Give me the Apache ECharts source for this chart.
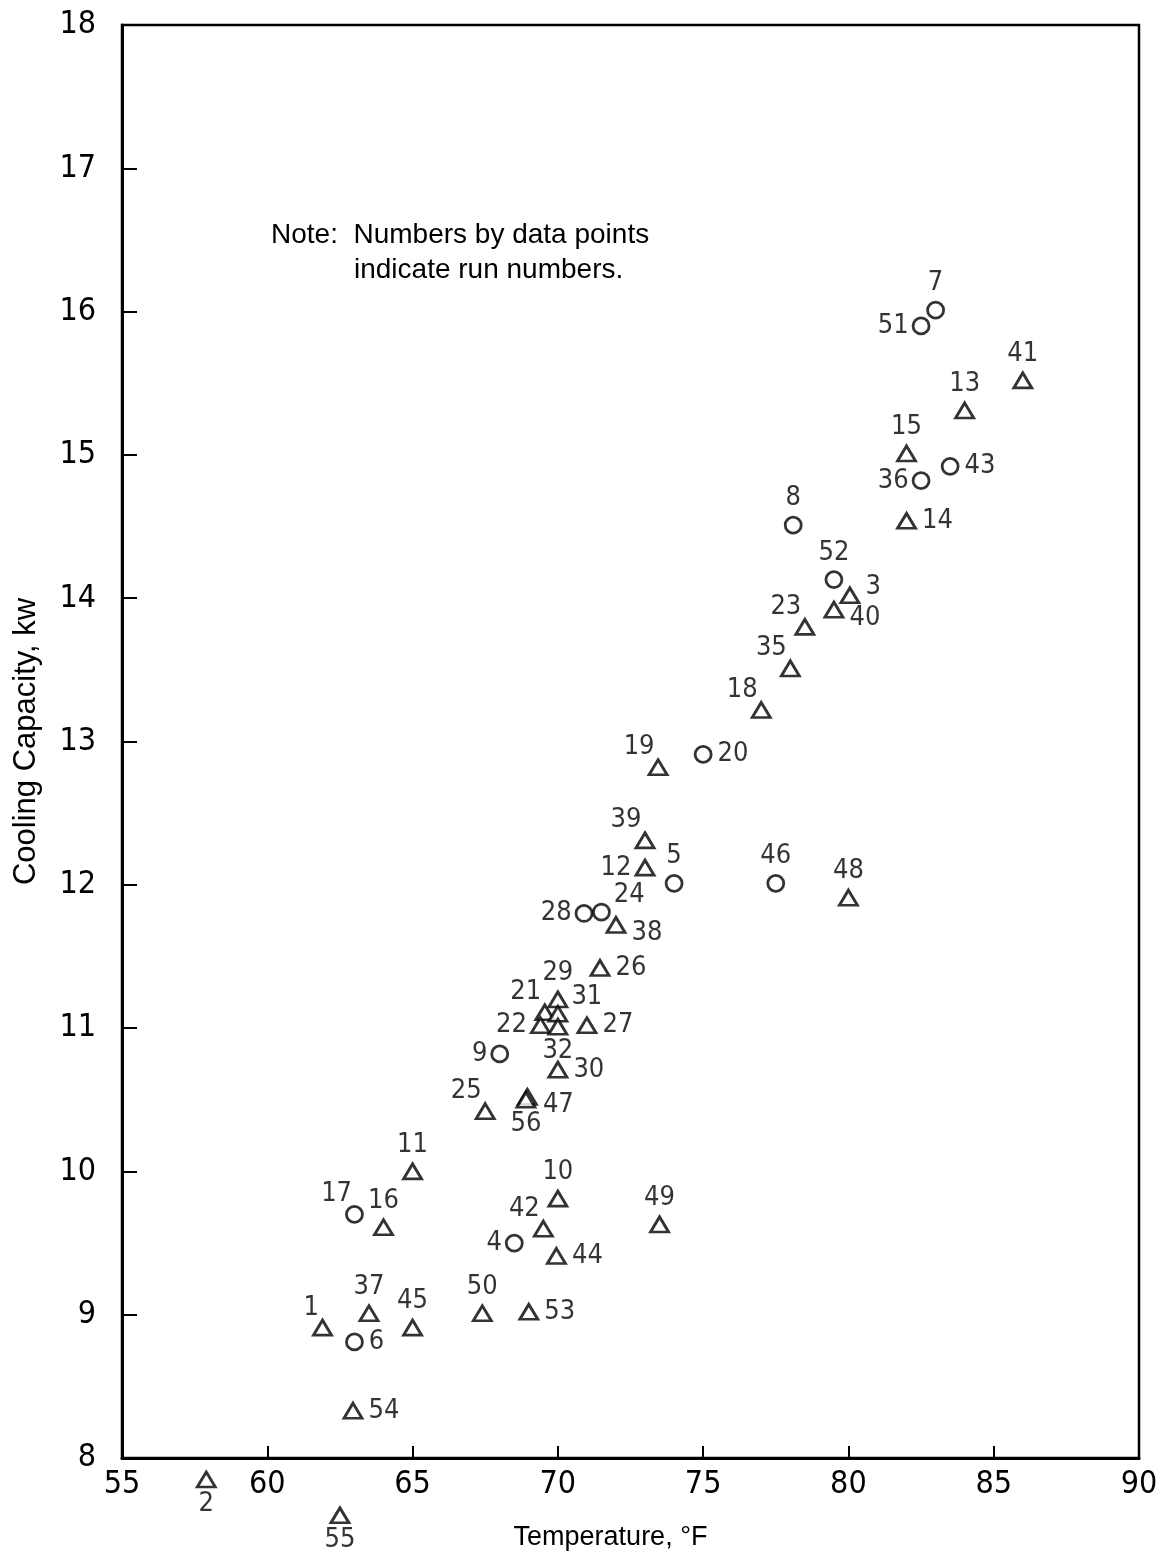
<!DOCTYPE html>
<html>
<head>
<meta charset="utf-8">
<title>Cooling capacity vs temperature</title>
<script src="https://cdn.jsdelivr.net/npm/echarts@6/dist/echarts.min.js"></script>
<style>
  html, body { margin: 0; padding: 0; background: #fff; }
  #chart { width: 1169px; height: 1557px; }
</style>
</head>
<body>
<div id="chart"></div>
<script>
// open circles
const circleRuns = [7, 51, 36, 43, 8, 52, 20, 5, 46, 28, 24, 9, 17, 4, 6];
const circleTemp = [83.0, 82.5, 82.5, 83.5, 78.1, 79.5, 75.0, 74.0, 77.5, 70.9, 71.5, 68.0, 63.0, 68.5, 63.0];
const circleCap = [16.01, 15.9, 14.82, 14.92, 14.51, 14.13, 12.91, 12.01, 12.01, 11.8, 11.81, 10.82, 9.7, 9.5, 8.81];

// open triangles
const triRuns = [41, 13, 15, 14, 3, 40, 23, 35, 18, 19, 39, 12, 48, 38, 26, 29, 21, 31, 22, 32,
  27, 30, 25, 47, 56, 11, 16, 10, 42, 44, 49, 1, 37, 45, 50, 53, 54, 2, 55];
const triTemp = [86.0, 84.0, 82.0, 82.0, 80.05, 79.5, 78.5, 78.0, 77.0, 73.45, 73.0, 73.0, 80.0, 72.0, 71.45, 70.0, 69.55, 70.0, 69.4, 70.0,
  71.0, 70.0, 67.5, 68.95, 68.9, 65.0, 64.0, 70.0, 69.5, 69.95, 73.5, 61.9, 63.5, 65.0, 67.4, 69.0, 62.95, 57.9, 62.5];
const triCap = [15.52, 15.31, 15.01, 14.54, 14.02, 13.92, 13.8, 13.51, 13.22, 12.82, 12.31, 12.12, 11.91, 11.72, 11.42, 11.2, 11.11, 11.1, 11.02, 11.01,
  11.02, 10.71, 10.42, 10.52, 10.5, 10.0, 9.61, 9.81, 9.6, 9.41, 9.63, 8.91, 9.01, 8.91, 9.01, 9.02, 8.33, 7.85, 7.6];

const xTicks = [55, 60, 65, 70, 75, 80, 85, 90];
const yTicks = [8, 9, 10, 11, 12, 13, 14, 15, 16, 17, 18];

// where each run number sits next to its mark
const labelSide = {
  7: 'top', 51: 'left', 36: 'left', 43: 'right', 8: 'top', 52: 'top', 20: 'right', 5: 'top', 46: 'top',
  28: 'left', 24: 'tr', 9: 'left', 17: 'tl', 4: 'left', 6: 'right',
  41: 'top', 13: 'top', 15: 'top', 14: 'right', 3: 'ru', 40: 'rd', 23: 'tl', 35: 'tl', 18: 'tl', 19: 'tl',
  39: 'tl', 12: 'left', 48: 'top', 38: 'rd', 26: 'right', 29: 'top', 21: 'tl', 31: 'tr', 22: 'left', 32: 'bottom',
  27: 'right', 30: 'right', 25: 'tl', 47: 'rd', 56: 'bottom', 11: 'top', 16: 'top', 10: 'top', 42: 'tl', 44: 'right',
  49: 'top', 1: 'tl', 37: 'top', 45: 'top', 50: 'top', 53: 'right', 54: 'right', 2: 'bottom', 55: 'bottom'
};

const numFont = "'Liberation Sans Narrow', 'DejaVu Sans Condensed', sans-serif";
const textFont = "'Liberation Sans', Arial, sans-serif";

function labelFor(run) {
  const side = labelSide[run] || 'right';
  const lbl = { show: true, formatter: String(run), distance: 5 };
  if (side === 'top') { lbl.position = 'top'; lbl.distance = 4; }
  else if (side === 'bottom') { lbl.position = 'bottom'; lbl.distance = 2; }
  else if (side === 'left') { lbl.position = 'left'; lbl.distance = 3; }
  else if (side === 'right') { lbl.position = 'right'; lbl.distance = 5; }
  else if (side === 'tl') { lbl.position = 'left'; lbl.offset = [12, -20]; }
  else if (side === 'tr') { lbl.position = 'right'; lbl.offset = [-2, -17]; }
  else if (side === 'ru') { lbl.position = 'right'; lbl.offset = [0, -8]; }
  else if (side === 'rd') { lbl.position = 'right'; lbl.offset = [0, 8]; }
  return lbl;
}

function points(runs, xs, ys) {
  return runs.map((r, i) => ({ value: [xs[i], ys[i]], label: labelFor(r) }));
}

const markStyle = { color: '#fff', borderColor: '#000', borderWidth: 2.8 };
const labelStyle = { color: '#000', fontSize: 27, fontFamily: numFont };

const chart = echarts.init(document.getElementById('chart'));
chart.setOption({
  backgroundColor: '#fff',
  animation: false,
  grid: {
    left: 122, right: 30, top: 25, bottom: 99,
    show: true, borderColor: '#000', borderWidth: 2.5
  },
  xAxis: {
    type: 'value',
    min: xTicks[0], max: xTicks[xTicks.length - 1], interval: 5,
    name: 'Temperature, °F',
    nameLocation: 'middle', nameGap: 66,
    nameTextStyle: { color: '#000', fontSize: 27, fontFamily: textFont, padding: [0, 40, 0, 0] },
    axisLine: { lineStyle: { color: '#000', width: 3 } },
    axisTick: { inside: true, length: 12, lineStyle: { color: '#000', width: 2 } },
    axisLabel: { color: '#000', fontSize: 32, fontFamily: numFont, margin: 11 },
    splitLine: { show: false }
  },
  yAxis: {
    type: 'value',
    min: yTicks[0], max: yTicks[yTicks.length - 1], interval: 1,
    name: 'Cooling Capacity, kw',
    nameLocation: 'middle', nameGap: 80,
    nameTextStyle: { color: '#000', fontSize: 31, fontFamily: textFont },
    axisLine: { lineStyle: { color: '#000', width: 3 } },
    axisTick: { inside: true, length: 15, lineStyle: { color: '#000', width: 2 } },
    axisLabel: { color: '#000', fontSize: 32, fontFamily: numFont, margin: 26 },
    splitLine: { show: false }
  },
  graphic: [
    { type: 'text', left: 271, top: 221,
      style: { text: 'Note:  Numbers by data points', fill: '#000', font: '28px ' + textFont } },
    { type: 'text', left: 354, top: 256,
      style: { text: 'indicate run numbers.', fill: '#000', font: '28px ' + textFont } }
  ],
  series: [
    {
      name: 'circles',
      type: 'scatter',
      symbol: 'circle',
      symbolSize: 16,
      clip: false,
      itemStyle: markStyle,
      label: labelStyle,
      data: points(circleRuns, circleTemp, circleCap)
    },
    {
      name: 'triangles',
      type: 'scatter',
      symbol: 'triangle',
      symbolSize: [18, 15],
      clip: false,
      itemStyle: markStyle,
      label: labelStyle,
      data: points(triRuns, triTemp, triCap)
    }
  ]
});
</script>
</body>
</html>
